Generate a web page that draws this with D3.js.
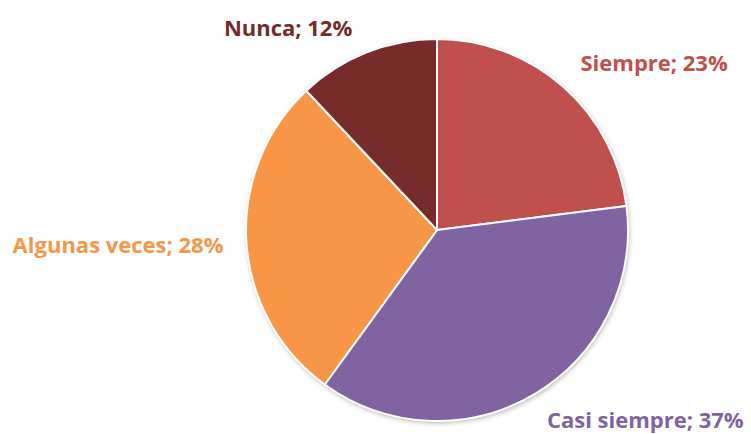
<!DOCTYPE html>
<html><head><meta charset="utf-8">
<script src="https://cdn.jsdelivr.net/npm/d3@7/dist/d3.min.js"></script>
<style>body{margin:0;background:#fff}svg{display:block}</style>
</head><body><svg id="c" width="751" height="434"></svg>
<script>
const categories = ["Siempre", "Casi siempre", "Algunas veces", "Nunca"];
const values = [23, 37, 28, 12];
const colors = ["#C0504D", "#8064A2", "#F79646", "#772B2A"];
const labelDx = [2, 1, 0, -6];
const labelDy = [-8, 5, 1, -4];

const W = 751, H = 434, cx = 437, cy = 230, R = 191;
const svg = d3.select("#c");
const defs = svg.append("defs");
const f = defs.append("filter").attr("id","sh").attr("x","-10%").attr("y","-10%").attr("width","120%").attr("height","120%");
f.append("feDropShadow").attr("dx",1).attr("dy",2).attr("stdDeviation",2.5).attr("flood-color","#000").attr("flood-opacity",0.3);

const data = categories.map((c,i)=>({c, v: values[i], i}));
const pie = d3.pie().value(d=>d.v).sort(null);
const arcs = pie(data);
const arc = d3.arc().innerRadius(0).outerRadius(R);
const g = svg.append("g").attr("transform",`translate(${cx},${cy})`);
g.append("circle").attr("r",R).attr("fill","#fff").attr("filter","url(#sh)");
g.selectAll("path").data(arcs).join("path")
  .attr("d",arc).attr("fill",d=>colors[d.data.i])
  .attr("stroke","#fff").attr("stroke-width",2).attr("stroke-linejoin","round");

const lr = R*1.12;
g.selectAll("text").data(arcs).join("text")
  .each(function(d){
    const a = (d.startAngle+d.endAngle)/2;
    const x = Math.sin(a)*lr, y = -Math.cos(a)*lr;
    d3.select(this).attr("x", x + labelDx[d.data.i]).attr("y", y + labelDy[d.data.i])
      .attr("text-anchor", Math.sin(a)>=0?"start":"end");
  })
  .attr("dominant-baseline","central")
  .attr("font-family","'Open Sans', sans-serif").attr("font-weight","bold").attr("font-size",22)
  .attr("fill",d=>colors[d.data.i])
  .text(d=>`${d.data.c}; ${d.data.v}%`);
</script></body></html>
